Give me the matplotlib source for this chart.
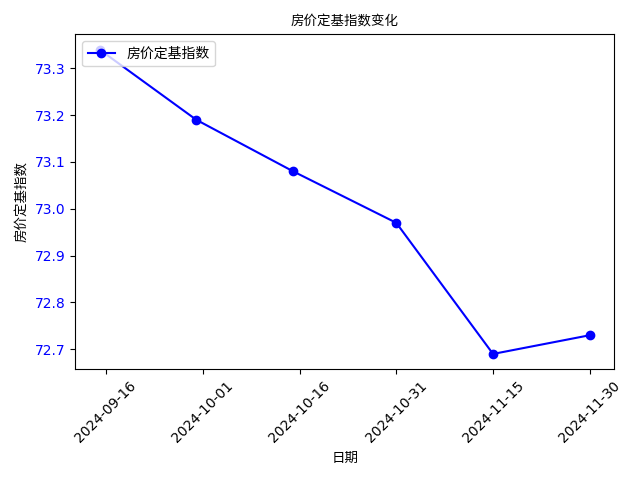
import matplotlib
matplotlib.use("Agg")
import matplotlib.pyplot as plt
import matplotlib.dates as mdates
import pandas as pd

CJK = ['Noto Sans CJK SC', 'DejaVu Sans']

dates = ["2024-09-15", "2024-09-30", "2024-10-15", "2024-10-31", "2024-11-15", "2024-11-30"]
index_values = [73.34, 73.19, 73.08, 72.97, 72.69, 72.73]
tick_dates = ["2024-09-16", "2024-10-01", "2024-10-16", "2024-10-31", "2024-11-15", "2024-11-30"]


def main():
    x = pd.to_datetime(dates)
    fig, ax = plt.subplots(figsize=(6.4, 4.8), dpi=100)

    ax.plot(x, index_values, color="blue", marker="o", label="房价定基指数")

    ax.set_xticks(pd.to_datetime(tick_dates))
    ax.xaxis.set_major_formatter(mdates.DateFormatter("%Y-%m-%d"))
    ax.tick_params(axis="x", rotation=45)
    ax.tick_params(axis="y", labelcolor="blue")

    ax.set_title("房价定基指数变化", fontsize=9.7, family=CJK)
    ax.set_xlabel("日期", fontsize=9.7, family=CJK)
    ax.set_ylabel("房价定基指数", fontsize=9.7, family=CJK)
    ax.legend(loc="upper left", prop={"family": CJK, "size": 10})

    fig.tight_layout()
    fig.savefig("out.png")
    plt.close(fig)


if __name__ == "__main__":
    main()
